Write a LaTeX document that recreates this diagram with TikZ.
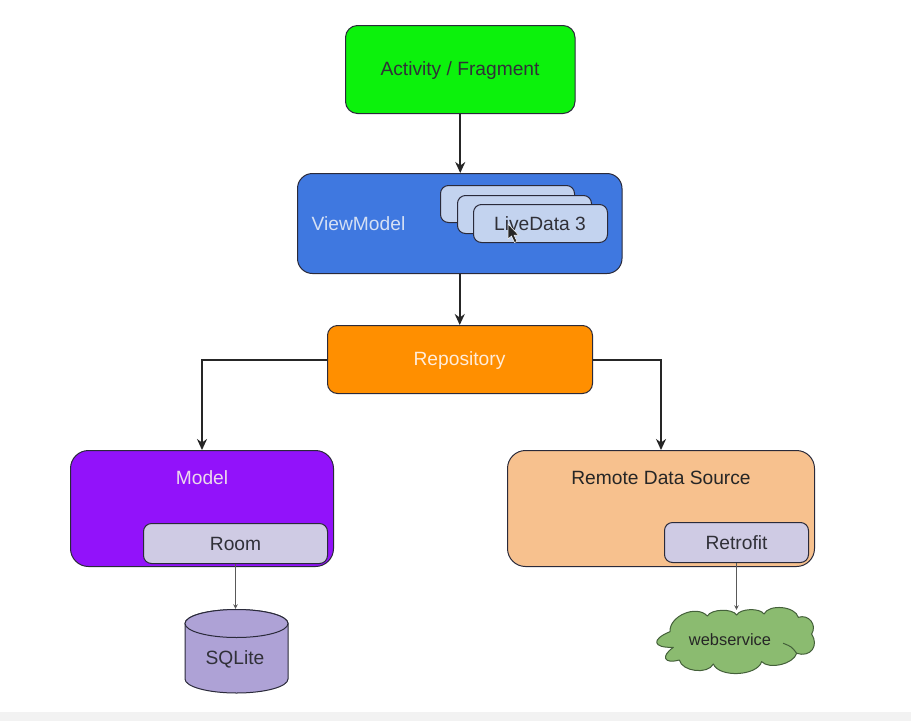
\documentclass[tikz,border=0pt]{standalone}
\usepackage{fontspec}
\setmainfont{Liberation Sans}
\usetikzlibrary{arrows.meta}
\definecolor{actgreen}{HTML}{0CF20C}
\definecolor{vmblue}{HTML}{3F78E0}
\definecolor{cardblue}{HTML}{C3D3EF}
\definecolor{repoorange}{HTML}{FF8F00}
\definecolor{modelpurple}{HTML}{9212FA}
\definecolor{remotepeach}{HTML}{F7C18E}
\definecolor{libgrey}{HTML}{CFCBE4}
\definecolor{sqlpurple}{HTML}{AEA2D6}
\definecolor{cloudgreen}{HTML}{8BBB70}
\definecolor{cloudedge}{HTML}{44603A}
\definecolor{edgedark}{HTML}{2A2A3A}
\definecolor{inktext}{HTML}{303038}
\tikzset{
  x=1pt,y=-1pt,
  boxbase/.style={draw=edgedark,line width=1pt,rounded corners=#1,inner sep=0pt,anchor=north west,font=\fontsize{19.2}{22}\selectfont},
  boxbase/.default=14pt,
  mainarrow/.style={-{Stealth[length=11pt,width=10pt]},line width=2pt,color=black!85},
  thinarrow/.style={-{Stealth[length=4.5pt,width=4.5pt]},line width=0.9pt,color=black!65},
  lbl/.style={font=\fontsize{19.2}{22}\selectfont,inner sep=0pt},
}
\begin{document}
\begin{tikzpicture}
\useasboundingbox (0,0) rectangle (911,721);
\fill[white] (0,0) rectangle (911,721);
\fill[black!5] (0,712) rectangle (911,721);
% boxes
\node[boxbase=12pt,fill=actgreen,minimum width=229.5pt,minimum height=88pt] (act) at (345,25) {};
\node[lbl,text=inktext] (actlabel) at (460,71) {Activity / Fragment};
\node[boxbase=15pt,fill=vmblue,minimum width=324.5pt,minimum height=100pt] (vm) at (297,173) {};
\node[boxbase=8pt,fill=cardblue,minimum width=134pt,minimum height=37pt] (card1) at (440,185) {};
\node[boxbase=8pt,fill=cardblue,minimum width=134pt,minimum height=38pt] (card2) at (457,195) {};
\node[boxbase=8pt,fill=cardblue,minimum width=134pt,minimum height=38pt] (card3) at (473,204) {};
\node[lbl,text=inktext] (cardlabel) at (540,224) {LiveData 3};
\node[lbl,text=cardblue!70!white] (vmlabel) at (358.5,223.5) {ViewModel};
\node[boxbase=10pt,fill=repoorange,minimum width=265pt,minimum height=68pt] (repo) at (327,325) {};
\node[lbl,text=white!85!orange] (repolabel) at (459.5,361) {Repository};
\node[boxbase=18pt,fill=modelpurple,minimum width=263pt,minimum height=116pt] (model) at (70,450) {};
\node[lbl,text=white!85!violet] (modellabel) at (202,478) {Model};
\node[boxbase=8pt,fill=libgrey,minimum width=184pt,minimum height=40pt,text=inktext] (room) at (143,523) {Room};
\node[boxbase=18pt,fill=remotepeach,minimum width=307pt,minimum height=116pt] (remote) at (507,450) {};
\node[lbl,text=black!85] (remotelabel) at (661,478) {Remote Data Source};
\node[boxbase=8pt,fill=libgrey,minimum width=144pt,minimum height=40pt,text=inktext] (retro) at (664,522) {Retrofit};
% SQLite cylinder
\node[minimum width=103pt,minimum height=84pt,inner sep=0pt] (sql) at (236.5,651) {};
\draw[draw=edgedark,line width=1pt,fill=sqlpurple] (185,623.5) arc[start angle=180,end angle=360,x radius=51.5pt,y radius=-14pt] -- (288,679) arc[start angle=0,end angle=180,x radius=51.5pt,y radius=-14pt] -- cycle;
\draw[draw=edgedark,line width=1pt,fill=sqlpurple] (236.5,623.5) ellipse[x radius=51.5pt,y radius=14pt];
\node[lbl,text=inktext] (sqllabel) at (235,659.5) {SQLite};
% cloud
\begin{scope}[shift={(620,510)},x=0.33333pt,y=-0.33333pt]
\draw[draw=cloudedge,line width=1pt,fill=cloudgreen,line join=round]
 (150,365) to[bend left=70] (262,318)
 to[bend left=60,looseness=0.7] (350,315)
 to[bend left=60,looseness=0.7] (432,312)
 to[bend left=70,looseness=0.85] (535,322)
 to[bend left=70,looseness=1.3] (575,372)
 to[bend left=70,looseness=1.5] (530,430)
 to[bend left=60,looseness=0.8] (425,455)
 to[bend left=70,looseness=0.8] (280,462)
 to[bend left=70,looseness=0.9] (178,450)
 to[bend left=80,looseness=2.9] (160,412)
 to[bend left=80,looseness=3.3] (150,365) -- cycle;
\draw[draw=cloudedge,line width=1pt,line cap=round] (530,430) .. controls (515,410) .. (490,400);
\end{scope}
\node[minimum width=160pt,minimum height=60pt,inner sep=0pt,font=\fontsize{16.4}{19}\selectfont,text=black!85] (web) at (730,640) {webservice};
% connectors
\draw[mainarrow] (act.south) -- (act.south |- vm.north);
\draw[mainarrow] (vm.south) -- (vm.south |- repo.north);
\draw[mainarrow] (repo.west) -| (model.north);
\draw[mainarrow] (repo.east) -| (remote.north);
\draw[thinarrow] (room.south) -- (room.south |- sql.north);
\draw[thinarrow] (retro.south) -- (retro.south |- web.north);
% mouse pointer
\coordinate (cursor) at (508,224);
\fill[black!85,draw=white,line width=0.5pt] (cursor) -- ++(0,15) -- ++(3.5,-3) -- ++(3,6.5) -- ++(2.5,-1) -- ++(-3,-6.5) -- ++(4.5,0) -- cycle;
\end{tikzpicture}
\end{document}
